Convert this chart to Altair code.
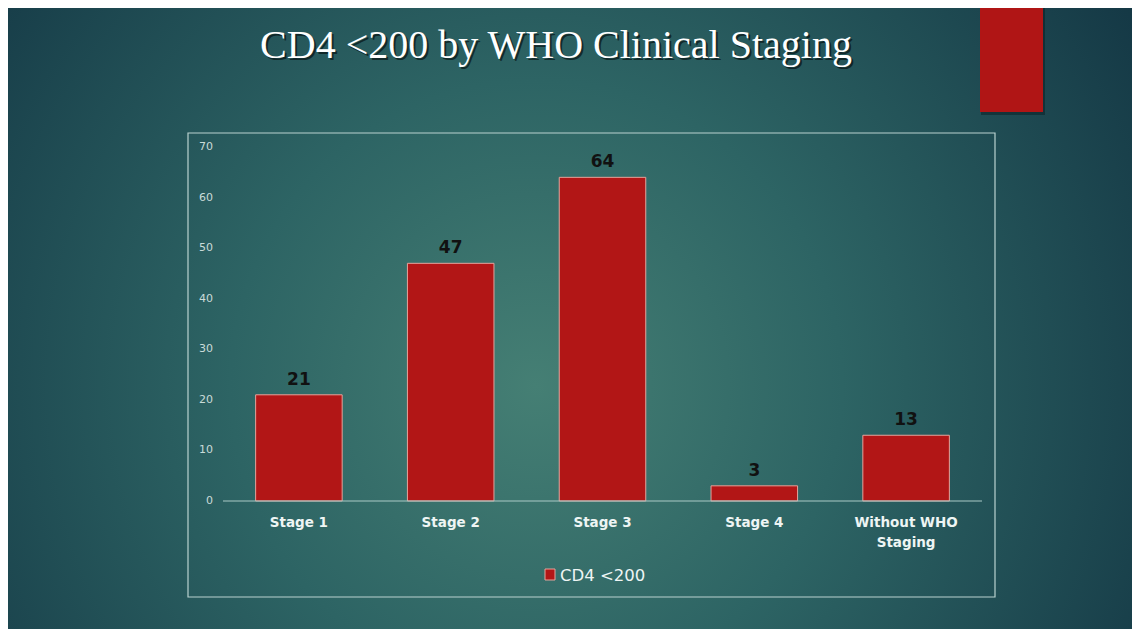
import altair as alt
import pandas as pd

# ---- data ----
categories = ["Stage 1", "Stage 2", "Stage 3", "Stage 4", "Without WHO Staging"]
axis_labels = ["Stage 1", "Stage 2", "Stage 3", "Stage 4", "Without WHO\nStaging"]
values = [21, 47, 64, 3, 13]
series_name = "CD4 <200"
y_ticks = [0, 10, 20, 30, 40, 50, 60, 70]
title_text = "CD4 <200 by WHO Clinical Staging"

W, H = 1124, 621

bars_df = pd.DataFrame({"cat": categories, "value": values, "label": axis_labels})
ticks_df = pd.DataFrame({"t": y_ticks, "lab": [str(t) for t in y_ticks]})
one = pd.DataFrame({"k": [0]})

xscale = alt.Scale(domain=categories, range=[215, 974], paddingInner=0.43, paddingOuter=0.215)
yscale = alt.Scale(domain=[0, 70], range=[493, 139], nice=False, zero=True)

X = alt.X("cat:N", scale=xscale, axis=None, sort=categories)

bg = alt.Chart(one).mark_rect(
    color=alt.RadialGradient(
        gradient="radial",
        x1=0.47, y1=0.56, r1=0.0,
        x2=0.47, y2=0.56, r2=0.68,
        stops=[
            alt.GradientStop(offset=0.0, color="#457f74"),
            alt.GradientStop(offset=0.4, color="#2d6464"),
            alt.GradientStop(offset=1.0, color="#113241"),
        ],
    )
).encode(x=alt.value(0), x2=alt.value(W), y=alt.value(0), y2=alt.value(H))

red_shadow = alt.Chart(one).mark_rect(color="#06181c", opacity=0.45).encode(
    x=alt.value(973), x2=alt.value(1037), y=alt.value(0), y2=alt.value(107)
)
red_rect = alt.Chart(one).mark_rect(color="#b01515").encode(
    x=alt.value(972), x2=alt.value(1035), y=alt.value(0), y2=alt.value(104)
)

title_shadow = alt.Chart(one).mark_text(
    text=title_text, font="Liberation Serif", fontSize=40, color="#000000",
    opacity=0.55, align="center", baseline="alphabetic"
).encode(x=alt.value(550), y=alt.value(52))
title = alt.Chart(one).mark_text(
    text=title_text, font="Liberation Serif", fontSize=40, color="#ffffff",
    align="center", baseline="alphabetic"
).encode(x=alt.value(548), y=alt.value(50))

box = alt.Chart(one).mark_rect(
    fill="#000000", fillOpacity=0, stroke="#b9d2d0", strokeWidth=1.2
).encode(x=alt.value(180), x2=alt.value(987), y=alt.value(125), y2=alt.value(589))

axis_line = alt.Chart(one).mark_rule(color="#a9c9c6", strokeWidth=1.2).encode(
    x=alt.value(215), x2=alt.value(974), y=alt.value(493)
)

bars = alt.Chart(bars_df).mark_bar(
    color="#b21616", stroke="#e4a49c", strokeWidth=1
).encode(x=X, y=alt.Y("value:Q", scale=yscale, axis=None))

value_labels = alt.Chart(bars_df).mark_text(
    font="DejaVu Sans", fontSize=17, fontWeight="bold", color="#111111",
    baseline="alphabetic", dy=-10
).encode(x=X, y=alt.Y("value:Q", scale=yscale, axis=None), text="value:Q")

x_labels = alt.Chart(bars_df).mark_text(
    font="DejaVu Sans", fontSize=13.5, fontWeight="bold", color="#eef5f4",
    baseline="alphabetic", lineBreak="\n", lineHeight=20
).encode(x=X, y=alt.value(519), text="label:N")

y_labels = alt.Chart(ticks_df).mark_text(
    font="DejaVu Sans", fontSize=11, color="#c9dbd8", align="right", baseline="middle"
).encode(x=alt.value(205), y=alt.Y("t:Q", scale=yscale, axis=None), text="lab:N")

legend_sq = alt.Chart(one).mark_rect(color="#b21616", stroke="#e4a49c", strokeWidth=1).encode(
    x=alt.value(537), x2=alt.value(547), y=alt.value(561), y2=alt.value(572)
)
legend_txt = alt.Chart(one).mark_text(
    text=series_name, font="DejaVu Sans", fontSize=16.5, color="#eef5f4",
    align="left", baseline="alphabetic"
).encode(x=alt.value(552), y=alt.value(573))

chart = alt.layer(
    bg, red_shadow, red_rect, title_shadow, title, box, bars, axis_line,
    value_labels, x_labels, y_labels, legend_sq, legend_txt
).properties(
    width=W, height=H, padding=0, autosize=alt.AutoSizeParams(type="none")
).configure_view(stroke=None)

chart.save("out.html", embed_options={"renderer": "svg", "actions": False})
